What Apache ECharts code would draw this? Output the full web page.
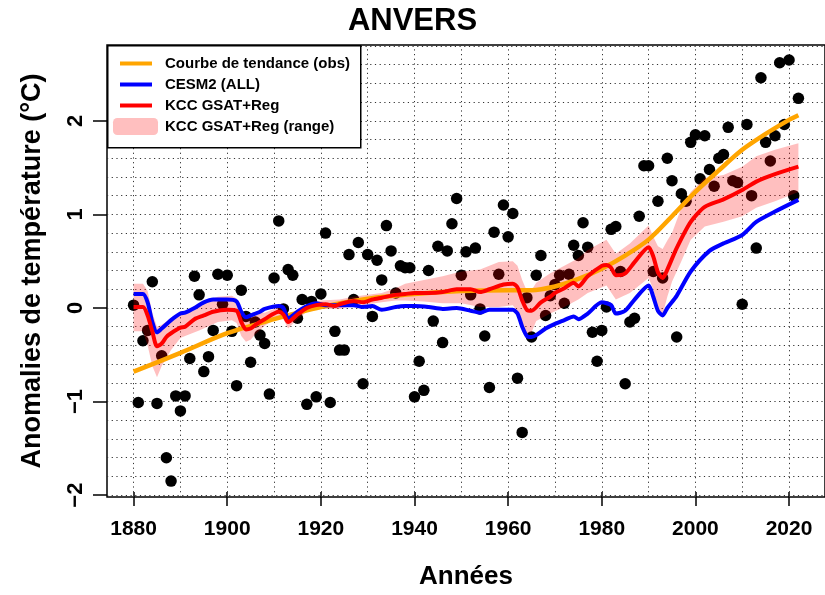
<!DOCTYPE html>
<html><head><meta charset="utf-8">
<script src="https://cdn.jsdelivr.net/npm/echarts@6/dist/echarts.min.js"></script>
<style>html,body{margin:0;padding:0;background:#fff}#c{width:825px;height:595px}</style>
</head><body><div id="c"></div>
<script>
// ---------- DATA ----------
const obsStartYear = 1880;
const obsValues = [
 0.03,-1.01,-0.35,-0.24,0.28,-1.02,-0.51,-1.60,-1.85,-0.94,
 -1.10,-0.94,-0.54,0.34,0.14,-0.68,-0.52,-0.24,0.36,0.04,
 0.35,-0.25,-0.83,0.19,-0.09,-0.58,-0.15,-0.29,-0.38,-0.92,
 0.32,0.93,-0.01,0.41,0.35,-0.11,0.09,-1.03,0.07,-0.95,
 0.15,0.80,-1.01,-0.25,-0.45,-0.45,0.57,0.09,0.70,-0.81,
 0.57,-0.09,0.51,0.30,0.88,0.61,0.16,0.45,0.43,0.43,
 -0.95,-0.57,-0.88,0.40,-0.14,0.66,-0.37,0.61,0.90,1.17,
 0.35,0.60,0.14,0.64,-0.01,-0.30,-0.85,0.81,0.36,1.10,
 0.76,1.01,-0.75,-1.33,0.11,-0.31,0.35,0.56,-0.08,0.13,
 0.25,0.35,0.05,0.36,0.67,0.56,0.91,0.65,-0.26,-0.57,
 -0.24,0.01,0.84,0.87,0.39,-0.81,-0.15,-0.11,0.98,1.52,
 1.52,0.39,1.14,0.32,1.60,1.36,-0.31,1.22,1.14,1.77,
 1.85,1.38,1.84,1.48,1.30,1.60,1.64,1.93,1.36,1.34,
 0.04,1.96,1.20,0.64,2.46,1.77,1.57,1.84,2.62,1.96,
 2.65,1.20,2.24
];

const trendYears  = [1880,1890,1900,1910,1920,1930,1940,1950,1960,1965,1970,1975,1980,1985,1990,1995,2000,2005,2010,2015,2020,2022];
const trendValues = [-0.68,-0.48,-0.27,-0.12,0.01,0.10,0.15,0.18,0.19,0.19,0.23,0.31,0.42,0.56,0.73,0.98,1.24,1.47,1.69,1.86,2.01,2.06];

const cesmYears  = [1880,1882,1883,1884,1885,1886,1888,1890,1891,1893,1895,1897,1900,1902,1903,1904,1905,1907,1908,1911,1912,1913,1915,1917,1919,1921,1924,1927,1929,1931,1933,1936,1938,1940,1943,1946,1949,1952,1954,1956,1959,1961,1962,1963,1964,1965,1966,1968,1970,1972,1974,1975,1977,1980,1982,1983,1985,1987,1990,1991,1992,1993,1994,1996,1999,2003,2006,2010,2013,2017,2022];
const cesmValues = [0.15,0.15,0.06,-0.15,-0.26,-0.22,-0.13,-0.06,-0.05,0.00,0.06,0.09,0.09,0.07,-0.04,-0.10,-0.08,-0.04,-0.01,0.02,0.00,-0.11,-0.04,0.02,0.05,0.03,0.03,0.03,0.01,0.02,-0.02,0.01,0.02,0.02,0.01,-0.01,0.00,-0.03,-0.05,-0.02,-0.02,-0.02,-0.06,-0.20,-0.30,-0.31,-0.29,-0.22,-0.17,-0.13,-0.09,-0.12,-0.06,0.06,0.03,-0.06,-0.03,0.09,0.24,0.12,-0.03,-0.08,0.00,0.13,0.39,0.61,0.69,0.78,0.92,1.03,1.155];

const kccYears  = [1880,1882,1883,1884,1885,1886,1887,1888,1890,1891,1893,1895,1897,1900,1902,1903,1904,1905,1906,1908,1911,1912,1913,1915,1917,1919,1921,1923,1924,1927,1929,1931,1933,1936,1938,1940,1943,1946,1949,1952,1954,1956,1959,1961,1962,1963,1964,1965,1967,1969,1970,1972,1974,1975,1977,1980,1981,1982,1983,1985,1987,1990,1991,1992,1993,1994,1996,1999,2002,2006,2010,2013,2017,2022];
const kccValues = [0.01,0.01,-0.08,-0.25,-0.41,-0.38,-0.31,-0.27,-0.21,-0.20,-0.12,-0.08,-0.04,-0.02,-0.03,-0.15,-0.23,-0.22,-0.18,-0.12,-0.04,-0.07,-0.15,-0.07,0.00,0.03,0.04,0.02,0.04,0.075,0.06,0.09,0.11,0.14,0.15,0.16,0.16,0.17,0.20,0.20,0.17,0.20,0.25,0.26,0.22,0.08,-0.02,-0.03,0.06,0.12,0.16,0.21,0.27,0.23,0.34,0.45,0.46,0.43,0.35,0.37,0.49,0.65,0.55,0.38,0.32,0.41,0.64,0.92,1.08,1.16,1.26,1.35,1.43,1.51];

const rangeYears = [1880,1882,1883,1884,1885,1886,1888,1890,1891,1894,1898,1901,1902,1903,1904,1905,1906,1908,1911,1912,1913,1915,1917,1920,1924,1927,1930,1933,1936,1938,1942,1946,1950,1954,1958,1961,1962,1963,1964,1965,1966,1969,1972,1975,1977,1981,1983,1986,1990,1991,1992,1993,1994,1995,1997,1999,2002,2006,2010,2013,2017,2022];
const rangeLow  = [-0.25,-0.25,-0.40,-0.62,-0.74,-0.62,-0.45,-0.32,-0.30,-0.24,-0.15,-0.13,-0.16,-0.30,-0.36,-0.34,-0.28,-0.19,-0.09,-0.12,-0.22,-0.12,-0.04,-0.01,-0.01,0.03,0.04,0.06,0.08,0.08,0.07,0.05,0.05,0.01,0.01,0.03,-0.04,-0.18,-0.27,-0.26,-0.14,-0.06,0.01,0.09,0.16,0.24,0.09,0.16,0.32,0.20,-0.02,-0.07,0.12,0.28,0.50,0.73,0.87,0.92,0.98,1.07,1.14,1.24];
const rangeHigh = [0.26,0.26,0.18,-0.05,-0.20,-0.18,-0.11,-0.04,-0.04,0.05,0.12,0.13,0.10,-0.02,-0.08,-0.07,-0.06,-0.05,0.01,-0.02,-0.09,-0.02,0.04,0.08,0.09,0.12,0.14,0.16,0.21,0.26,0.30,0.34,0.39,0.41,0.49,0.50,0.45,0.30,0.18,0.19,0.27,0.37,0.45,0.53,0.62,0.73,0.58,0.69,0.88,0.76,0.66,0.63,0.72,0.80,1.07,1.24,1.39,1.42,1.51,1.62,1.69,1.76];

const xTickValues = [1880,1900,1920,1940,1960,1980,2000,2020];
const yTickValues = [-2,-1,0,1,2];
const xGridValues = [1880,1890,1900,1910,1920,1930,1940,1950,1960,1970,1980,1990,2000,2010,2020];
const yGridValues = [-2,-1.8,-1.6,-1.4,-1.2,-1,-0.8,-0.6,-0.4,-0.2,0,0.2,0.4,0.6,0.8,1,1.2,1.4,1.6,1.8,2,2.2,2.4,2.6,2.8];

const seriesNames = ['Courbe de tendance (obs)','CESM2 (ALL)','KCC GSAT+Reg','KCC GSAT+Reg (range)'];

// ---------- CHART ----------
const FONT = '"Liberation Sans", Arial, sans-serif';
const pairs = (xs, ys) => xs.map((x, i) => [x, ys[i]]);
const obsData = obsValues.map((v, i) => [obsStartYear + i, v]);
const BAND = 'rgba(255,0,0,0.25)';
const X_MIN = 1874.32, X_MAX = 2027.68, Y_MIN = -2.02, Y_MAX = 2.81;
const gridRect = {left: 107, top: 45, right: -3, bottom: 98};

const chart = echarts.init(document.getElementById('c'), null, {renderer: 'canvas'});
chart.setOption({
  animation: false,
  backgroundColor: '#fff',
  title: {text: 'ANVERS', left: 'center', top: 1,
    textStyle: {fontSize: 31, fontWeight: 'bold', fontFamily: FONT, color: '#000'}},
  grid: [
    Object.assign({show: true, borderColor: '#000', borderWidth: 1.5, backgroundColor: 'transparent'}, gridRect),
    Object.assign({show: false}, gridRect)
  ],
  xAxis: [
    {gridIndex: 0, type: 'value', min: X_MIN, max: X_MAX, show: false},
    {gridIndex: 1, type: 'value', min: X_MIN, max: X_MAX, position: 'bottom',
      axisLine: {show: false, onZero: false}, splitLine: {show: false},
      axisTick: {show: true, length: 14, lineStyle: {color: '#000', width: 1.5}, customValues: xTickValues},
      axisLabel: {customValues: xTickValues, margin: 27, fontSize: 21, fontWeight: 'bold', fontFamily: FONT, color: '#000', formatter: v => String(v)},
      name: 'Années', nameLocation: 'middle', nameGap: 72,
      nameTextStyle: {fontSize: 26, fontWeight: 'bold', fontFamily: FONT, color: '#000'}}
  ],
  yAxis: [
    {gridIndex: 0, type: 'value', min: Y_MIN, max: Y_MAX, position: 'left',
      axisLine: {show: false, onZero: false}, splitLine: {show: false},
      axisTick: {show: true, length: 14, lineStyle: {color: '#000', width: 1.5}, customValues: yTickValues},
      axisLabel: {customValues: yTickValues, rotate: 90, margin: 20, fontSize: 22, fontWeight: 'bold', fontFamily: FONT, color: '#000',
        formatter: v => (v < 0 ? '\u2212' + Math.abs(v) : String(v))},
      name: 'Anomalies de température (°C)', nameLocation: 'middle', nameGap: 61, nameRotate: 90,
      nameTextStyle: {fontSize: 27, fontWeight: 'bold', fontFamily: FONT, color: '#000'}},
    {gridIndex: 1, type: 'value', min: 1, max: 2, show: false}
  ],
  legend: [
    {data: seriesNames.slice(0, 3), orient: 'vertical', left: 120, top: 55, padding: 0, itemGap: 4,
      itemWidth: 32, itemHeight: 4, icon: 'rect', selectedMode: false, z: 200,
      textStyle: {fontSize: 15, fontWeight: 'bold', fontFamily: FONT, color: '#000', lineHeight: 17, padding: [0, 0, 0, 8]}},
    {data: [{name: seriesNames[3], itemStyle: {color: '#FFBFBF'}}], orient: 'vertical', left: 113, top: 118, padding: 0,
      itemWidth: 45, itemHeight: 17, icon: 'roundRect', selectedMode: false, z: 200,
      textStyle: {fontSize: 15, fontWeight: 'bold', fontFamily: FONT, color: '#000', lineHeight: 17, padding: [0, 0, 0, 2]}}
  ],
  graphic: {elements: [
    {type: 'rect', left: 107, top: 45, z: 100, silent: true,
      shape: {width: 253, height: 102}, style: {fill: '#fff', stroke: '#000', lineWidth: 1.5}}
  ]},
  series: [
    {type: 'line', data: [], silent: true, z: 1,
      markLine: {silent: true, z: 1, symbol: ['none', 'none'], animation: false,
        label: {show: false}, emphasis: {disabled: true},
        lineStyle: {color: '#333', width: 1, type: [1.2, 3.5]},
        data: xGridValues.map(v => ({xAxis: v})).concat(yGridValues.map(v => ({yAxis: v})))}},
    {type: 'scatter', name: 'obs', data: obsData, symbolSize: 11.5, z: 2,
      itemStyle: {color: '#000', opacity: 1}, silent: true},
    {type: 'custom', name: seriesNames[3], z: 3, silent: true, color: BAND,
      data: rangeYears.map((x, i) => [x, rangeLow[i], rangeHigh[i]]),
      encode: {x: 0, y: [1, 2]},
      renderItem: (params, api) => {
        if (params.dataIndex !== 0) return null;
        const top = rangeYears.map((x, i) => api.coord([x, rangeHigh[i]]));
        const bot = rangeYears.map((x, i) => api.coord([x, rangeLow[i]])).reverse();
        return {type: 'polygon', shape: {points: top.concat(bot)}, style: {fill: BAND}};
      }},
    {type: 'line', name: seriesNames[0], color: '#FFA500', data: pairs(trendYears, trendValues), symbol: 'none', smooth: 0.3, z: 4,
      lineStyle: {width: 4.5}, silent: true},
    {type: 'line', name: seriesNames[1], color: '#0000FF', data: pairs(cesmYears, cesmValues), symbol: 'none', smooth: 0.25, z: 5,
      lineStyle: {width: 4}, silent: true},
    {type: 'line', name: seriesNames[2], color: '#FF0000', data: pairs(kccYears, kccValues), symbol: 'none', smooth: 0.25, z: 6,
      lineStyle: {width: 4}, silent: true}
  ]
});
</script>
</body></html>
